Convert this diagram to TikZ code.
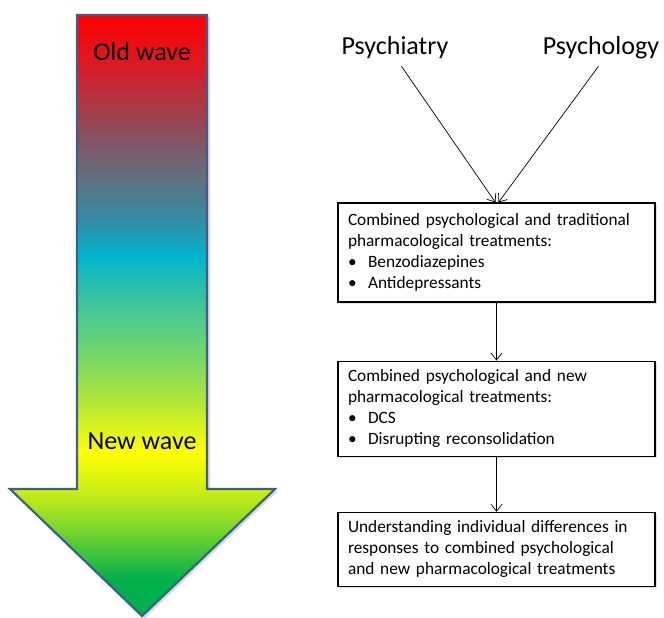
\documentclass[tikz,border=0pt]{standalone}
\usepackage{fontspec}
\setmainfont{Carlito}
\usetikzlibrary{positioning,arrows.meta,shadows}
\definecolor{waveline}{RGB}{62,94,140}
\pgfdeclareverticalshading{wavegrad}{100bp}{rgb(0bp)=(0,0.69,0.3); rgb(28bp)=(0,0.69,0.3); rgb(32.2bp)=(0.47,0.84,0.18); rgb(35.5bp)=(0.8,0.94,0.08); rgb(38.6bp)=(1,1,0); rgb(43bp)=(0.69,0.9,0.22); rgb(47.2bp)=(0.43,0.84,0.43); rgb(51bp)=(0.25,0.77,0.6); rgb(55bp)=(0,0.71,0.8); rgb(58bp)=(0.2,0.55,0.65); rgb(61.3bp)=(0.37,0.45,0.5); rgb(64.6bp)=(0.51,0.33,0.39); rgb(71bp)=(0.86,0.1,0.14); rgb(75bp)=(1,0,0); rgb(100bp)=(1,0,0)}
\tikzstyle{tbox}=[rectangle, draw=black, line width=1.2pt, fill=white, drop shadow={opacity=0.25,shadow xshift=2pt,shadow yshift=-2pt}, minimum width=317pt, text width=297pt, inner xsep=10pt, align=left, font=\fontsize{17.3}{21}\selectfont]
\tikzstyle{head}=[font=\fontsize{26}{30}\selectfont, inner sep=2pt]
\tikzstyle{pline}=[-{Straight Barb[length=7pt,width=11pt]}, line width=0.7pt]
\newcommand{\blt}{\makebox[20pt][l]{\textbullet}}

\begin{document}
\begin{tikzpicture}[x=1pt,y=1pt]
\useasboundingbox (0,0) rectangle (664,618);
\shade[shading=wavegrad, draw=waveline, line width=2.2pt, line join=miter, drop shadow={opacity=0.3,shadow xshift=3pt,shadow yshift=-2pt}]
  (77,603) -- (207,603) -- (207,129) -- (275,129) -- (142,2) -- (10,129) -- (77,129) -- cycle;
\node (OLD) [head] at (142,566) {Old wave};
\node (NEW) [head] at (142,177) {New wave};
\node (PSYI) [head] at (395,570) {Psychiatry};
\node (PSYO) [head] at (601,570) {Psychology};
\node (CTRAD) [tbox, minimum height=99pt] at (496.5,365.5) {Combined psychological and traditional\\pharmacological treatments:\\\blt Benzodiazepines\\\blt Antidepressants};
\node (CNEW) [tbox, minimum height=95pt, below=58pt of CTRAD] {Combined psychological and new\\pharmacological treatments:\\\blt DCS\\\blt Disrupting reconsolidation};
\node (INDIV) [tbox, minimum height=74pt, below=55pt of CNEW] {Understanding individual differences in\\responses to combined psychological\\and new pharmacological treatments};
\draw[pline, shorten <=6pt] ([xshift=3pt]PSYI.south) -- ([xshift=-1pt]CTRAD.north);
\draw[pline, shorten <=6pt] ([xshift=1pt]PSYO.south) -- ([xshift=2pt]CTRAD.north);
\draw[pline] (CTRAD.south) -- (CNEW.north);
\draw[pline] (CNEW.south) -- (INDIV.north);
\end{tikzpicture}
\end{document}
